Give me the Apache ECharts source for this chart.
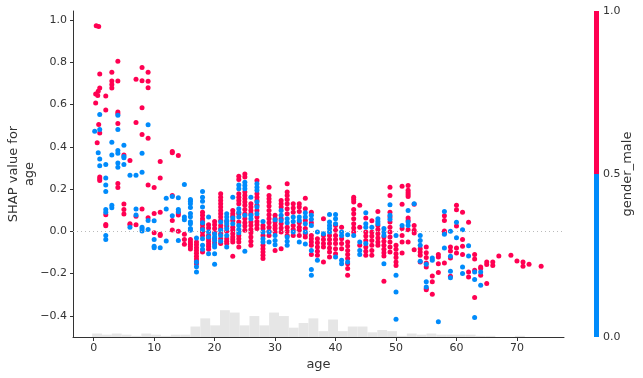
<!DOCTYPE html>
<html><head><meta charset="utf-8">
<script src="https://cdn.jsdelivr.net/npm/echarts@6/dist/echarts.min.js"></script>
<style>html,body{margin:0;padding:0;background:#fff}#c{width:643px;height:378px}</style>
</head><body><div id="c"></div>
<script>
// gender_male = 0 (blue): [age, [SHAP values]]
const femaleCols = [
  [0.17,[0.474]],[0.75,[0.372]],[1,[0.553,0.482,0.342,0.310]],
  [2,[0.317,0.252,0.219,0.189,0.104,0.091,-0.019,-0.039]],
  [3,[0.422,0.361,0.124,0.112]],
  [4,[0.549,0.482,0.383,0.370,0.323,0.304]],
  [5,[0.408,0.354,0.348,0.317]],
  [6,[0.265,0.019]],
  [7,[0.265,0.106,0.077]],
  [8,[0.370,0.280,0.020,0.011,0.002]],
  [9,[0.505,0.052,0.009]],
  [10,[0.050,-0.039,-0.071,-0.077]],
  [11,[-0.077]],
  [12,[0.157,0.106,-0.046]],
  [13,[0.165,0.074]],
  [14,[0.159,0.104,0.093,-0.043]],
  [15,[0.222,0.068,0.055]],
  [16,[0.151,0.142,0.131,0.113,0.085,0.069,0.046,0.036,0.014,0.005]],
  [17,[-0.031,-0.145,-0.168,-0.192]],
  [18,[0.189,0.162,0.143,0.115,0.041,0.008,-0.035,-0.066,-0.085]],
  [19,[0.068,-0.003,-0.027,-0.106]],
  [20,[-0.013,-0.027,-0.043,-0.063,-0.074,-0.106,-0.156]],
  [21,[0.044,0.005,-0.019,-0.047]],
  [22,[0.083,0.068,0.052,0.036,0.013,-0.019,-0.074]],
  [23,[0.161,0.063,0.036]],
  [24,[0.220,0.202,0.107,0.091,0.068,0.028,0.009,-0.006]],
  [25,[0.233,0.217,0.202,0.076,-0.094]],
  [26,[0.162,0.076,0.060]],
  [27,[0.225,0.209,0.194,0.139,0.115,0.083]],
  [28,[0.047,-0.003,-0.035,-0.050]],
  [29,[-0.003,-0.050]],
  [30,[0.055,-0.019,-0.043,-0.063]],
  [31,[0.099,0.076,0.052]],
  [32,[0.060,0.041,-0.027,-0.047,-0.066]],
  [33,[0.068,0.047,-0.003]],
  [34,[0.068,0.052,-0.050]],
  [35,[0.088,0.068,0.036,-0.003,-0.060]],
  [36,[0.076,0.057,0.028,-0.090,-0.181,-0.208]],
  [37,[-0.003,-0.137]],
  [38,[-0.011]],
  [39,[0.080,0.044,0.028,0.013,-0.003]],
  [40,[0.080,0.060,0.036,-0.121]],
  [41,[-0.003,-0.019,-0.137,-0.153]],
  [42,[-0.016,-0.145]],
  [43,[-0.019]],
  [44,[-0.050,-0.090,-0.110]],
  [45,[0.088,0.036,0.020,-0.058]],
  [46,[0.020]],
  [47,[0.060,0.047,0.036]],
  [48,[0.013,-0.003,-0.019,-0.153]],
  [49,[0.126,0.076,0.057]],
  [50,[-0.019,-0.208,-0.287,-0.416]],
  [51,[0.028]],
  [52,[0.099,0.044,0.028]],
  [53,[0.131]],
  [54,[-0.020,-0.043,-0.066,-0.142]],
  [55,[-0.156,-0.239,-0.263]],
  [56,[-0.126,-0.137]],
  [57,[-0.428]],
  [58,[0.094,-0.014,-0.079]],
  [59,[0.0,-0.118,-0.189,-0.220]],
  [60,[0.043,-0.030]],
  [61,[0.008,-0.169,-0.200]],
  [62,[-0.068,-0.117]],
  [63,[-0.192,-0.228,-0.408]],
  [64,[-0.192,-0.255]]
];
// gender_male = 1 (red)
const maleCols = [
  [0.42,[0.973]],[0.83,[0.970,0.506]],[0.33,[0.650,0.608]],[0.75,[0.663]],[0.67,[0.643]],[0.58,[0.419]],
  [1,[0.745,0.679,0.465,0.257,0.249,0.241]],
  [2,[0.641,0.575,0.079,0.033,0.027]],
  [3,[0.753,0.712,0.695,0.679]],
  [4,[0.805,0.712,0.565,0.557,0.510,0.227,0.208]],
  [5,[0.361,0.129,0.104,0.082]],
  [6,[0.335,0.036,0.031]],
  [7,[0.720,0.515,0.071,0.031]],
  [8,[0.776,0.713,0.585,0.458,0.106]],
  [9,[0.753,0.710,0.680,0.441,0.219,0.065]],
  [10,[0.208,0.085,-0.006]],
  [11,[0.331,0.252,0.090,-0.014,-0.020]],
  [13,[0.378,0.372,0.170,0.052,0.006]],
  [14,[0.359,0.087,0.077,0.0]],
  [15,[-0.014,-0.039,-0.061]],
  [16,[-0.039,-0.050,-0.061,-0.072,-0.083]],
  [17,[-0.050,-0.063,-0.077,-0.090,-0.104,-0.118,-0.131,-0.143,-0.153]],
  [18,[0.091,0.076,0.060,0.047,0.031,0.016,-0.003,-0.019,-0.098]],
  [19,[0.031,0.016,-0.019,-0.035,-0.047,-0.060,-0.072,-0.085]],
  [20,[0.047,0.031,0.013,-0.006,-0.035,-0.054]],
  [21,[0.178,0.162,0.146,0.131,0.115,0.099,0.083,0.068,0.052,0.028,0.013,-0.011,-0.035,-0.058]],
  [22,[0.047,0.025,0.0,-0.035,-0.047,-0.058]],
  [23,[0.099,0.083,0.072,0.052,0.020,0.005,-0.011,-0.027,-0.038,-0.050,-0.118]],
  [24,[0.261,0.246,0.178,0.162,0.146,0.131,0.083,0.044,-0.019,-0.035,-0.050,-0.074]],
  [25,[0.272,0.257,0.186,0.170,0.154,0.139,0.123,0.104,0.083,0.060,0.041,0.025,0.005]],
  [26,[0.131,0.115,0.099,0.083,0.044,0.028,0.009,-0.006,-0.027,-0.047,-0.066]],
  [27,[0.241,0.178,0.162,0.146,0.123,0.099,0.068,0.047,0.031,0.013]],
  [28,[0.028,0.013,-0.019,-0.066,-0.082,-0.098,-0.113,-0.129]],
  [29,[0.209,0.170,0.154,0.139,0.120,0.099,0.079,0.060,0.041,0.020,0.0,-0.019]],
  [30,[0.076,0.060,0.044,0.028,0.013,-0.003,-0.090]],
  [31,[0.146,0.131,0.115,0.060,0.036,0.016,-0.003,-0.082]],
  [32,[0.225,0.186,0.170,0.151,0.131,0.107,0.083,0.020,0.0,-0.019]],
  [33,[0.131,0.110,0.091,0.028,0.009,-0.019]],
  [34,[0.131,0.115,0.094,0.041,0.020,0.005,-0.019]],
  [35,[0.157,0.107,0.052,0.013,-0.011,-0.027]],
  [36,[0.091,0.041,-0.019,-0.035,-0.050,-0.066,-0.109]],
  [37,[-0.035,-0.054,-0.074,-0.094,-0.113]],
  [38,[0.060,-0.019,-0.038,-0.058,-0.074,-0.145]],
  [39,[-0.019,-0.038,-0.058,-0.079,-0.098,-0.121]],
  [40,[0.028,0.005,-0.019,-0.038,-0.058,-0.082,-0.106]],
  [41,[0.020,-0.035,-0.058,-0.082]],
  [42,[-0.050,-0.069,-0.090,-0.110,-0.129,-0.153,-0.176,-0.208]],
  [43,[0.162,0.151,0.139,0.104,0.083,0.060,0.036,0.016,-0.003]],
  [44,[0.123,0.020,-0.066]],
  [45,[0.063,-0.003,-0.022,-0.043,-0.074,-0.094,-0.113]],
  [46,[0.050,-0.003,-0.022,-0.043,-0.066,-0.090,-0.113]],
  [47,[0.094,0.028,0.009,-0.011,-0.031,-0.050,-0.066]],
  [48,[-0.027,-0.047,-0.066,-0.085,-0.101,-0.117,-0.236]],
  [49,[0.209,0.170,0.091,0.068,0.044,0.020,-0.003,-0.027,-0.050,-0.074,-0.098]],
  [50,[-0.066,-0.085,-0.106,-0.124,-0.145,-0.161]],
  [51,[0.213,0.128,0.013,-0.019,-0.050,-0.102]],
  [52,[0.217,0.194,0.184,0.175,0.165,0.063,0.052,0.008,-0.050]],
  [53,[0.128,0.028,0.005,-0.008,-0.087]],
  [54,[-0.082,-0.098,-0.113,-0.145]],
  [55,[-0.074,-0.101,-0.124,-0.150,-0.169,-0.271,-0.276]],
  [56,[-0.211,-0.239,-0.298]],
  [57,[-0.109,-0.121,-0.153,-0.195]],
  [58,[0.074,0.052,0.002,-0.008,-0.150]],
  [59,[-0.074,-0.093,-0.126,-0.213]],
  [60,[0.123,0.102,0.025,-0.079,-0.102]],
  [61,[0.091,-0.039,-0.071,-0.109]],
  [62,[0.043,-0.192,-0.216]],
  [63,[-0.110,-0.131,-0.184,-0.313]],
  [64,[-0.169,-0.176,-0.208]],
  [65,[-0.145,-0.157,-0.247]],
  [66,[-0.145,-0.162]],
  [67,[-0.117]],[69,[-0.113]],[70,[-0.140]],[71,[-0.145,-0.165]],[72,[-0.156]],[74,[-0.165]]
];
// age histogram (relative counts per bin)
const histCounts = [3,2,3,2,1,3,2,1,2,2,9,16,10,23,21,10,18,10,21,18,8,12,16,5,15,5,9,9,4,6,5,1,3,2,3,2,2,2,2,1,1,0,0,1,0,0];
const histStart = -0.25, histWidth = 1.626;
const xTicks = [0,10,20,30,40,50,60,70];
const yTicks = [-0.4,-0.2,0.0,0.2,0.4,0.6,0.8,1.0];
const cbTicks = [0,0.5,1];
const cbBands = [[0,0.5,'#008bfb'],[0.5,1,'#ff0052']];

const flat = cols => { const out = []; cols.forEach(([a, vs]) => vs.forEach(v => out.push([a, v]))); return out; };
const femaleData = flat(femaleCols);
const maleData = flat(maleCols);
const histData = histCounts.map((c, i) => [histStart + i*histWidth, histStart + (i+1)*histWidth, c]);

const txt = '#333333';
const fam = 'DejaVu Sans';
const fmtNum = v => (Math.abs(v) < 1e-9 ? 0 : v).toFixed(1).replace('-', '\u2212');

const chart = echarts.init(document.getElementById('c'), null, {renderer: 'canvas'});
chart.setOption({
  animation: false,
  backgroundColor: '#fff',
  textStyle: {fontFamily: fam},
  grid: [
    {left: 73, top: 11, width: 491, height: 326, containLabel: false, outerBoundsMode: 'none'},
    {left: 594, top: 11, width: 5, height: 326, containLabel: false, outerBoundsMode: 'none'}
  ],
  xAxis: [
    {gridIndex: 0, type: 'value', min: -3.42, max: 77.78,
     name: 'age', nameLocation: 'middle', nameGap: 21, nameMoveOverlap: false,
     nameTextStyle: {fontSize: 13, color: txt, fontFamily: fam},
     axisLine: {show: true, onZero: false, lineStyle: {color: txt, width: 1}},
     axisTick: {show: true, length: 4, customValues: xTicks, lineStyle: {color: txt}},
     axisLabel: {customValues: xTicks, margin: 6, fontSize: 11, color: txt, fontFamily: fam, formatter: v => String(v)},
     splitLine: {show: false}},
    {gridIndex: 1, type: 'value', min: 0, max: 1, show: false}
  ],
  yAxis: [
    {gridIndex: 0, type: 'value', min: -0.5, max: 1.043,
     name: 'SHAP value for\nage', nameLocation: 'middle', nameGap: 35, nameRotate: 90, nameMoveOverlap: false,
     nameTextStyle: {fontSize: 13, color: txt, fontFamily: fam, lineHeight: 16, align: 'center'},
     axisLine: {show: true, onZero: false, lineStyle: {color: txt, width: 1}},
     axisTick: {show: true, length: 3, customValues: yTicks, lineStyle: {color: txt}},
     axisLabel: {customValues: yTicks, margin: 6, fontSize: 11, color: txt, fontFamily: fam, formatter: fmtNum},
     splitLine: {show: false}},
    {gridIndex: 0, type: 'value', min: 0, max: 280, show: false},
    {gridIndex: 1, type: 'value', min: 0, max: 1, position: 'right',
     name: 'gender_male', nameLocation: 'middle', nameGap: 22, nameRotate: 90, nameMoveOverlap: false,
     nameTextStyle: {fontSize: 13, color: txt, fontFamily: fam},
     axisLine: {show: false}, axisTick: {show: false},
     axisLabel: {customValues: cbTicks, margin: 4, fontSize: 11, color: txt, fontFamily: fam, formatter: fmtNum},
     splitLine: {show: false}}
  ],
  series: [
    {type: 'custom', xAxisIndex: 0, yAxisIndex: 1, z: 1, silent: true,
     data: histData, encode: {x: [0, 1], y: 2},
     renderItem: (params, api) => {
       const p0 = api.coord([api.value(0), 0]);
       const p1 = api.coord([api.value(1), api.value(2)]);
       return {type: 'rect', shape: {x: p0[0], y: p1[1], width: p1[0]-p0[0], height: p0[1]-p1[1]}, style: {fill: '#e6e6e6'}};
     }},
    {type: 'scatter', name: 'male', xAxisIndex: 0, yAxisIndex: 0, z: 3, data: maleData,
     symbolSize: 5, itemStyle: {color: '#ff0052', opacity: 1},
     markLine: {silent: true, symbol: 'none', label: {show: false},
       lineStyle: {color: '#bbbbbb', type: [1, 3], width: 1}, data: [{yAxis: 0}]}},
    {type: 'scatter', name: 'female', xAxisIndex: 0, yAxisIndex: 0, z: 4, data: femaleData,
     symbolSize: 5, itemStyle: {color: '#008bfb', opacity: 1}},
    {type: 'custom', xAxisIndex: 1, yAxisIndex: 2, silent: true,
     data: cbBands.map(b => [b[0], b[1]]), encode: {y: [0, 1]},
     renderItem: (params, api) => {
       const p0 = api.coord([0, api.value(0)]);
       const p1 = api.coord([1, api.value(1)]);
       return {type: 'rect', shape: {x: p0[0], y: p1[1], width: p1[0]-p0[0], height: p0[1]-p1[1]},
               style: {fill: cbBands[params.dataIndex][2]}};
     }}
  ]
});
</script></body></html>
